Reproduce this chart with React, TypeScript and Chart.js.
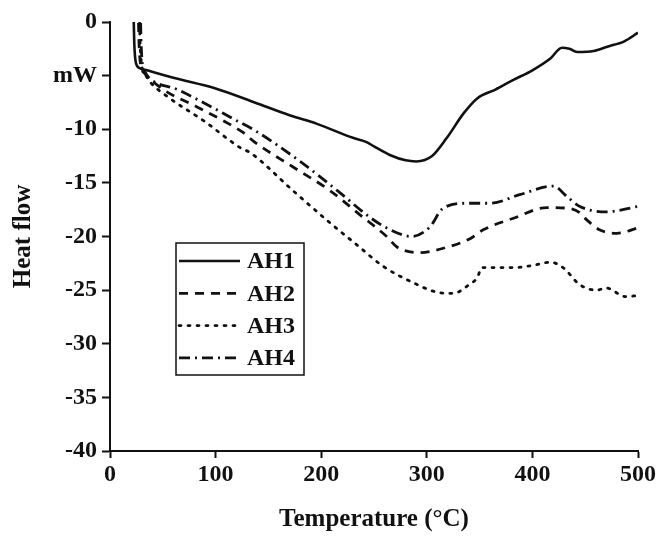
import React, { useEffect, useRef } from "react";
import { Chart, registerables } from "chart.js";

Chart.register(...registerables);

type P = { x: number; y: number };
const pts = (a: number[][]): P[] => a.map(([x, y]) => ({ x, y }));

const seriesLabels = ["AH1", "AH2", "AH3", "AH4"];

const ah1: number[][] = [
  [22.5, 0], [23, -2], [24.5, -3.8], [28, -4.3], [35, -4.5], [60, -5.2], [100, -6.2],
  [137, -7.5], [170, -8.7], [196, -9.5], [230, -10.8], [243, -11.2], [250, -11.6],
  [265, -12.4], [280, -12.9], [290, -13.0], [305, -12.5], [319, -10.8], [335, -8.5],
  [348, -7.1], [365, -6.3], [382, -5.4], [400, -4.5], [417, -3.4], [428, -2.4],
  [435, -2.5], [443, -2.8], [458, -2.7], [471, -2.3], [487, -1.8], [500, -1.0],
];

const ah2: number[][] = [
  [27, -0.1], [27.5, -2], [29, -4], [33, -4.8], [49, -6.2], [82, -7.9], [109, -9.3],
  [126, -10.3], [137, -11.2], [173, -13.5], [208, -15.7], [237, -18.0], [262, -20.0],
  [272, -21.0], [294, -21.5], [319, -21.0], [341, -20.2], [353, -19.4], [382, -18.3],
  [414, -17.3], [436, -17.4], [445, -17.8], [452, -18.5], [464, -19.4], [480, -19.7],
  [500, -19.2],
];

const ah3: number[][] = [
  [28, -0.1], [28.5, -2], [30, -4], [34, -5], [38, -5.6], [55, -7.0], [90, -9.3],
  [123, -11.7], [133, -12.2], [173, -15.7], [208, -18.7], [234, -20.8], [259, -22.8],
  [287, -24.3], [310, -25.2], [325, -25.3], [340, -24.5], [348, -23.8], [352, -22.9],
  [382, -22.9], [400, -22.7], [417, -22.4], [429, -22.9], [445, -24.5], [461, -25.0],
  [470, -24.8], [488, -25.6], [500, -25.5],
];

const ah4: number[][] = [
  [29, -0.1], [29.5, -2], [30.5, -3.8], [33, -4.6], [36, -5.1], [64, -6.3], [90, -7.6],
  [118, -9.1], [137, -10.1], [180, -13.0], [215, -15.7], [246, -18.2], [262, -19.2],
  [286, -20.0], [303, -19.1], [315, -17.4], [338, -16.9], [360, -16.9], [388, -16.1],
  [420, -15.3], [433, -16.3], [445, -17.2], [470, -17.7], [500, -17.2],
];

const xTicks = [0, 100, 200, 300, 400, 500];
const yTickLabels: Record<number, string> = {
  0: "0", [-5]: "mW", [-10]: "-10", [-15]: "-15", [-20]: "-20", [-25]: "-25",
  [-30]: "-30", [-35]: "-35", [-40]: "-40",
};

const dashes: number[][] = [[], [9, 7], [2, 7], [11, 5, 2, 5]];
const FONT = "'Liberation Serif', 'Times New Roman', serif";
const FS = 24;

const boxLegend = {
  id: "boxLegend",
  afterDraw(chart: any) {
    const ctx = chart.ctx as CanvasRenderingContext2D;
    const ca = chart.chartArea;
    const left = ca.left + 66;
    const top = ca.top + 221;
    const w = 128;
    const h = 132;
    ctx.save();
    ctx.strokeStyle = "#111";
    ctx.lineWidth = 1.5;
    ctx.setLineDash([]);
    ctx.strokeRect(left, top, w, h);
    chart.data.datasets.forEach((ds: any, i: number) => {
      const y = top + 18 + i * 32.3;
      ctx.beginPath();
      ctx.setLineDash(ds.borderDash || []);
      ctx.lineCap = i === 2 ? "round" : "butt";
      ctx.lineWidth = ds.borderWidth;
      ctx.strokeStyle = "#111";
      ctx.moveTo(left + 3, y);
      ctx.lineTo(left + 64, y);
      ctx.stroke();
      ctx.setLineDash([]);
      ctx.fillStyle = "#111";
      ctx.font = `bold ${FS}px ${FONT}`;
      ctx.textBaseline = "middle";
      ctx.textAlign = "left";
      ctx.fillText(ds.label, left + 71, y + 1);
    });
    ctx.restore();
  },
};

export default function App() {
  const ref = useRef<HTMLCanvasElement | null>(null);
  useEffect(() => {
    if (!ref.current) return;
    const all = [ah1, ah2, ah3, ah4];
    const chart = new Chart(ref.current, {
      type: "line",
      data: {
        datasets: all.map((d, i) => ({
          label: seriesLabels[i],
          data: pts(d),
          borderColor: "#111",
          backgroundColor: "#111",
          borderWidth: i === 0 ? 2.6 : 2.8,
          borderDash: dashes[i],
          borderCapStyle: i === 2 ? "round" : "butt",
          pointRadius: 0,
          cubicInterpolationMode: "monotone",
          fill: false,
        })) as any,
      },
      options: {
        animation: false,
        responsive: false,
        maintainAspectRatio: false,
        layout: { padding: { top: 22, right: 21, left: 0, bottom: 0 } },
        plugins: { legend: { display: false }, tooltip: { enabled: false } },
        scales: {
          x: {
            type: "linear",
            min: 0,
            max: 500,
            afterFit: (s: any) => { s.height = 86; },
            afterBuildTicks: (s: any) => { s.ticks = xTicks.map((v) => ({ value: v })); },
            grid: { drawOnChartArea: false, tickLength: 7, tickWidth: 2, tickColor: "#111" },
            border: { color: "#111", width: 2 },
            ticks: { color: "#111", font: { family: FONT, size: FS, weight: "bold" }, padding: 2, maxRotation: 0 },
            title: {
              display: true,
              text: "Temperature (°C)",
              color: "#111",
              font: { family: FONT, size: 25, weight: "bold" },
              padding: { top: 0, bottom: 2 },
            },
          },
          y: {
            type: "linear",
            min: -40,
            max: 0,
            afterFit: (s: any) => { s.width = 110; },
            afterBuildTicks: (s: any) => {
              s.ticks = Object.keys(yTickLabels).map((k) => ({ value: Number(k) })).sort((a, b) => a.value - b.value);
            },
            grid: { drawOnChartArea: false, tickLength: 8, tickWidth: 2, tickColor: "#111" },
            border: { color: "#111", width: 2 },
            ticks: {
              color: "#111",
              font: { family: FONT, size: FS, weight: "bold" },
              padding: 5,
              callback: (v: any) => yTickLabels[Number(v)] ?? "",
            },
            title: {
              display: true,
              text: "Heat flow",
              color: "#111",
              font: { family: FONT, size: 25, weight: "bold" },
              padding: { top: 9, bottom: 4 },
            },
          },
        },
      },
      plugins: [boxLegend],
    });
    return () => chart.destroy();
  }, []);
  return (
    <div style={{ position: "absolute", left: 0, top: 0, width: 659, height: 537, background: "#fff" }}>
      <canvas ref={ref} width={659} height={537} style={{ width: 659, height: 537 }} />
    </div>
  );
}
